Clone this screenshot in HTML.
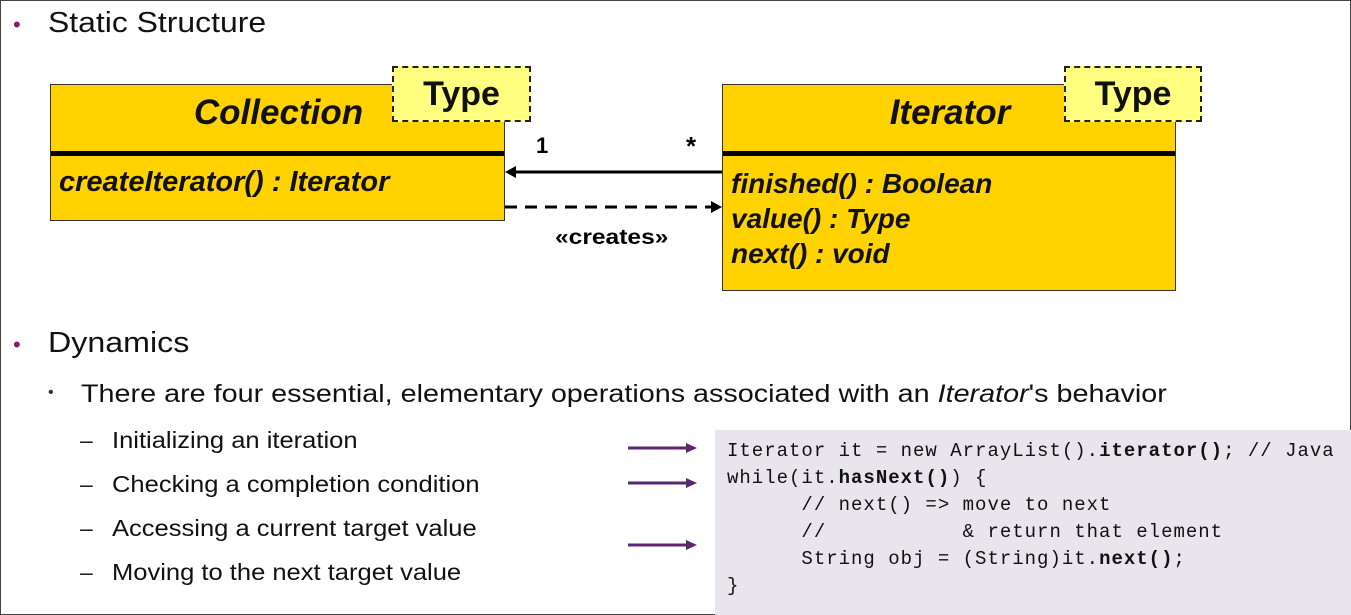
<!DOCTYPE html>
<html><head><style>
body{margin:0;width:1351px;height:615px;position:relative;overflow:hidden;background:#fff;font-family:"Liberation Sans",sans-serif;}
.a{position:absolute;white-space:nowrap;}
.s{transform-origin:left top;}
.frame{position:absolute;left:0;top:0;width:1349px;height:613px;border:1px solid #444;}
.box{position:absolute;background:#ffd200;border:1.5px solid #333;box-sizing:border-box;}
.bar{position:absolute;left:0;right:0;height:5px;background:#000;}
.type{position:absolute;background:#ffff80;border:2px dashed #222;box-sizing:border-box;font-weight:bold;font-size:34px;text-align:center;line-height:52px;color:#111;}
.bi{font-weight:bold;font-style:italic;color:#111;}
.code{position:absolute;left:715px;top:430px;width:636px;height:185px;background:#e9e5ec;}
.code pre{margin:0;position:absolute;left:12px;top:8px;font-family:"Liberation Mono",monospace;font-size:19px;letter-spacing:1.0px;line-height:27px;color:#111;}
</style></head><body>
<div class="frame"></div>
<div class="a" style="left:13px;top:12px;color:#8b1a6b;font-size:22px">•</div>
<div class="a s" style="left:48px;top:7px;font-size:29px;color:#111;transform:scaleX(1.1)">Static Structure</div>

<div class="box" style="left:50px;top:84px;width:455px;height:137px">
 <div class="bar" style="top:66px"></div>
 <div class="a bi" style="left:0;width:455px;text-align:center;top:8px;font-size:35px;padding-left:0;box-sizing:border-box">Collection</div>
 <div class="a bi" style="left:8px;top:81px;font-size:29px">createIterator() : Iterator</div>
</div>
<div class="type" style="left:392px;top:66px;width:139px;height:56px">Type</div>

<div class="box" style="left:722px;top:84px;width:454px;height:207px">
 <div class="bar" style="top:66px"></div>
 <div class="a bi" style="left:0;width:454px;text-align:center;top:8px;font-size:35px;box-sizing:border-box">Iterator</div>
 <div class="a bi" style="left:8px;top:81px;font-size:28px;line-height:35px">finished() : Boolean<br>value() : Type<br>next() : void</div>
</div>
<div class="type" style="left:1064px;top:66px;width:138px;height:56px">Type</div>

<svg class="a" style="left:0;top:0" width="1351" height="615">
 <line x1="722" y1="172" x2="512" y2="172" stroke="#000" stroke-width="3"/>
 <polygon points="505,172 516,166 516,178" fill="#000"/>
 <line x1="505" y1="207" x2="712" y2="207" stroke="#000" stroke-width="3" stroke-dasharray="12,8"/>
 <polygon points="722,207 711,201 711,213" fill="#000"/>
 <g stroke="#5a2770" stroke-width="3"><line x1="628" y1="448" x2="688" y2="448"/><line x1="628" y1="483" x2="688" y2="483"/><line x1="628" y1="545" x2="688" y2="545"/></g>
 <g fill="#5a2770"><polygon points="697,448 686,443 686,453"/><polygon points="697,483 686,478 686,488"/><polygon points="697,545 686,540 686,550"/></g>
</svg>
<div class="a" style="left:536px;top:133px;font-size:22px;font-weight:bold">1</div>
<div class="a" style="left:686px;top:131px;font-size:26px;font-weight:bold">*</div>
<div class="a s" style="left:555px;top:226px;font-size:21px;font-weight:bold;transform:scaleX(1.17)">«creates»</div>

<div class="a" style="left:13px;top:332px;color:#8b1a6b;font-size:22px">•</div>
<div class="a s" style="left:48px;top:327px;font-size:29px;color:#111;transform:scaleX(1.11)">Dynamics</div>
<div class="a" style="left:48px;top:384px;font-size:16px;color:#333">•</div>
<div class="a s" style="left:81px;top:380px;font-size:25px;color:#111;transform:scaleX(1.15)">There are four essential, elementary operations associated with an <i>Iterator</i>'s behavior</div>
<div class="a" style="left:80px;top:418px;font-size:23px;color:#222;line-height:44px">–<br>–<br>–<br>–</div>
<div class="a s" style="left:112px;top:418px;font-size:23px;color:#111;line-height:44px;transform:scaleX(1.11)">Initializing an iteration<br>Checking a completion condition<br>Accessing a current target value<br>Moving to the next target value</div>

<div class="code"><pre>Iterator it = new ArrayList().<b>iterator()</b>; // Java
while(it.<b>hasNext()</b>) {
      // next() =&gt; move to next
      //           &amp; return that element
      String obj = (String)it.<b>next()</b>;
}</pre></div>
</body></html>
